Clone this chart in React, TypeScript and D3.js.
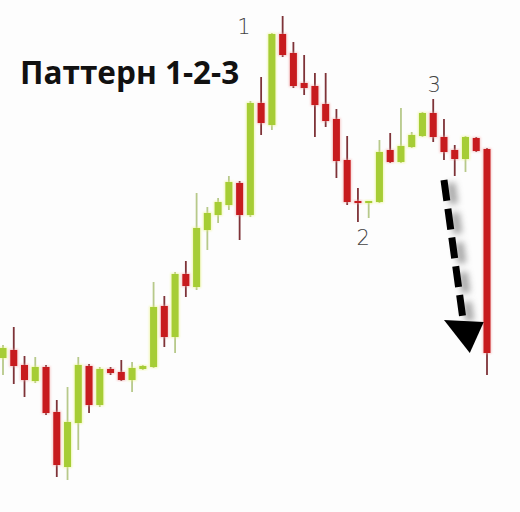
import React from "react";
import * as d3 from "d3";

// candles: index, open, high, low, close (price units, higher = up)
const opens = [142, 150, 135, 119, 133, 88, 33, 77, 134, 95, 131, 128, 120, 131, 133, 194, 163, 226, 213, 270, 285, 295, 317, 285, 397, 375, 466, 447, 417, 414, 396, 381, 340, 299, 297, 298, 350, 338, 353, 364, 387, 363, 350, 341, 362, 351];
const highs = [155, 173, 144, 143, 135, 100, 113, 143, 136, 133, 133, 140, 138, 135, 218, 204, 228, 239, 307, 293, 302, 324, 319, 399, 423, 467, 484, 458, 445, 427, 427, 391, 364, 312, 299, 360, 367, 392, 368, 388, 401, 381, 355, 364, 363, 352];
const lows = [125, 116, 103, 117, 85, 23, 20, 50, 87, 93, 125, 119, 108, 130, 132, 153, 147, 203, 210, 250, 277, 290, 260, 283, 365, 370, 443, 412, 405, 363, 373, 322, 295, 278, 282, 297, 337, 337, 352, 363, 358, 340, 324, 328, 348, 125];
const closes = [152, 134, 120, 133, 87, 35, 78, 135, 95, 131, 127, 120, 132, 134, 193, 163, 226, 214, 272, 287, 298, 318, 285, 397, 377, 466, 445, 414, 412, 395, 379, 339, 298, 297, 299, 348, 338, 354, 365, 387, 363, 348, 341, 363, 349, 147];

// pattern point labels
const pointLabels = ["1", "2", "3"];
const pointIndex = [22.4, 33.5, 40.1];
const pointPrice = [466, 255, 408];

// dashed forecast arrow (index, price)
const arrowLine: [number, number][] = [[41.0, 320], [42.75, 182]];
const arrowHead: [number, number][] = [[41.0, 180], [44.7, 178], [43.4, 147]];

const title = "Паттерн 1-2-3";

const W = 520;
const H = 512;

export default function App() {
  const x = d3.scaleLinear().domain([0, opens.length - 1]).range([3, 487]);
  const y = d3.scaleLinear().domain([0, 500]).range([500, 0]);
  const bodyW = 7;

  const candles = opens.map((o, i) => ({ i, o, h: highs[i], l: lows[i], c: closes[i] }));
  const line = d3.line<[number, number]>().x(d => x(d[0])).y(d => y(d[1]));

  return (
    <svg
      width={W}
      height={H}
      style={{ position: "absolute", left: 0, top: 0, background: "#fdfdfd" }}
    >
      <defs>
        <filter id="glow" x="-50%" y="-10%" width="200%" height="120%">
          <feGaussianBlur stdDeviation="1" />
        </filter>
        <filter id="shadow" x="-50%" y="-20%" width="200%" height="140%">
          <feGaussianBlur stdDeviation="3" />
        </filter>
      </defs>

      <text
        x={20}
        y={84}
        fontFamily="'Open Sans', sans-serif"
        fontWeight={700}
        fontSize={31.5}
        fill="#111"
      >
        {title}
      </text>

      {candles.map(d => {
        const up = d.c >= d.o;
        const cx = x(d.i);
        const top = y(Math.max(d.o, d.c));
        const bot = y(Math.min(d.o, d.c));
        const fill = up ? "#a6cd35" : "#c71b1e";
        const wick = up ? "#b7c98a" : "#7e3338";
        return (
          <g key={d.i}>
            <line x1={cx} x2={cx} y1={y(d.h)} y2={y(d.l)} stroke={wick} strokeWidth={1.8} />
            <rect
              x={cx - bodyW / 2 - 0.8}
              y={top - 0.8}
              width={bodyW + 1.6}
              height={Math.max(bot - top, 1.5) + 1.6}
              fill={up ? "#e6f27a" : "#f0a0a0"}
              opacity={0.6}
              filter="url(#glow)"
            />
            <rect
              x={cx - bodyW / 2}
              y={top}
              width={bodyW}
              height={Math.max(bot - top, 1.5)}
              fill={fill}
            />
          </g>
        );
      })}

      {/* forecast arrow */}
      <g transform="translate(7,3)" opacity={0.5} filter="url(#shadow)">
        <path d={line(arrowLine) ?? ""} stroke="#555" strokeWidth={9} strokeDasharray="21 9" fill="none" />
      </g>
      <path
        d={line(arrowLine) ?? ""}
        stroke="#000"
        strokeWidth={7}
        strokeDasharray="21 8"
        fill="none"
      />
      <path d={(line(arrowHead) ?? "") + "Z"} fill="#000" />

      {pointLabels.map((t, k) => (
        <text
          key={t}
          x={x(pointIndex[k])}
          y={y(pointPrice[k])}
          textAnchor="middle"
          fontFamily="'DejaVu Sans', sans-serif"
          fontWeight={300}
          fontSize={21}
          fill="#444"
        >
          {t}
        </text>
      ))}
    </svg>
  );
}
